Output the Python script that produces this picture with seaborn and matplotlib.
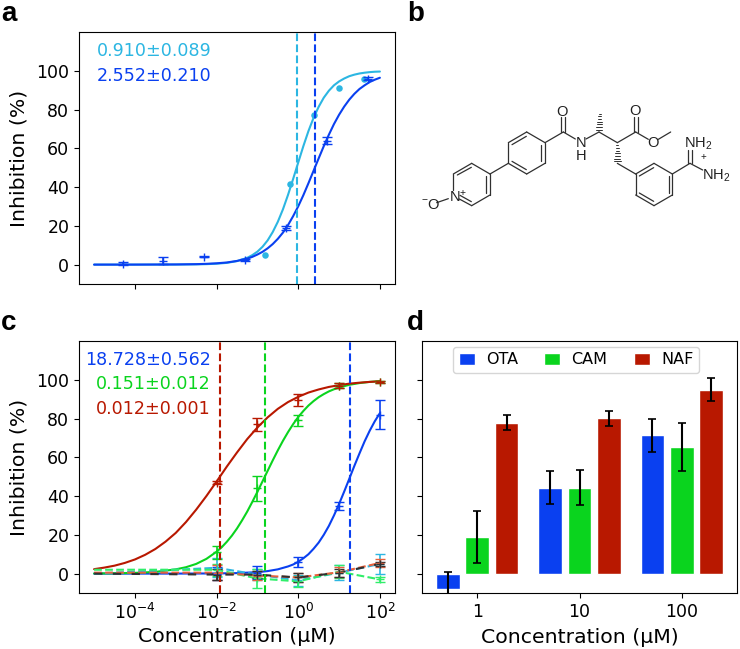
# -*- coding: utf-8 -*-
import numpy as np
import pandas as pd
import matplotlib
matplotlib.use('Agg')
import matplotlib.pyplot as plt
from matplotlib.ticker import FixedLocator, NullLocator, NullFormatter
import seaborn as sns

sns.set_style('ticks')
plt.rcParams['font.family'] = ['DejaVu Sans']
plt.rcParams['axes.linewidth'] = 0.8
plt.rcParams['mathtext.default'] = 'regular'
for key in ['text.color', 'axes.labelcolor', 'xtick.color', 'ytick.color', 'axes.edgecolor']:
    plt.rcParams[key] = 'black'

W, H = 740, 649
LIGHT = '#2cb6e2'
BLUE = '#0a40f0'
GREEN = '#0ad41e'
RED = '#b81800'
PALE_GREEN = '#30ee6a'
ORANGE = '#e8603c'

# %% panel a, fitted curves
logA = [-5, -4, -3, -2.5, -2.25, -2, -1.75, -1.5, -1.25, -1.125, -1, -0.875, -0.75, -0.625, -0.5, -0.375, -0.25,
        -0.125, 0, 0.125, 0.25, 0.375, 0.5, 0.625, 0.75, 0.875, 1, 1.125, 1.25, 1.375, 1.5, 1.625, 1.75, 1.875, 2]
curveA_dark = [0, 0.01, 0.09, 0.24, 0.41, 0.68, 1.1, 1.9, 3.1, 4.0, 5.2, 6.6, 8.4, 10.6, 13.3, 16.5, 20.4,
               25, 30.1, 35.8, 42, 48.4, 54.8, 61.1, 67, 72.5, 77.3, 81.5, 85.1, 88.1, 90.6, 92.5, 94.2, 95.4, 96.4]
curveA_light = [0, 0, 0.03, 0.12, 0.24, 0.46, 0.9, 1.8, 3.5, 4.9, 6.7, 9.2, 12.5, 16.8, 22.1, 28.5, 36,
                44.2, 52.7, 61.1, 68.9, 75.7, 81.4, 86.1, 89.7, 92.5, 94.5, 96, 97.2, 98, 98.6, 99, 99.3, 99.5, 99.6]

ptsA_x = [5e-5, 5e-4, 5e-3, 5e-2, 0.5, 5, 50]
ptsA_y = [0.5, 2, 4, 2.5, 19, 64, 96]
ptsA_e = [0.8, 1.8, 0.3, 0.4, 1, 2, 1]
dotsA_x = [0.15, 0.63, 2.5, 10, 40]
dotsA_y = [5, 41.5, 77, 91.3, 96]
ic50A = [0.910, 2.552]
ic50A_txt = ['0.910±0.089', '2.552±0.210']

# %% panel c
logOta = [-5, -4, -3, -2, -1.5, -1, -0.75, -0.5, -0.25, -0.125, 0, 0.125, 0.25, 0.375, 0.5, 0.625, 0.75, 0.875,
          1, 1.125, 1.25, 1.375, 1.5, 1.625, 1.75, 1.875, 2]
curveOta = [0, 0, 0.01, 0.09, 0.26, 0.75, 1.3, 2.2, 3.7, 4.7, 6.1, 7.9, 10, 12.8, 16, 20, 24.6, 30,
            35.9, 42.3, 48.9, 55.6, 62, 68.2, 73.7, 78.6, 82.8]
logCam = [-5, -4.5, -4, -3.5, -3, -2.75, -2.5, -2.25, -2, -1.875, -1.75, -1.625, -1.5, -1.375, -1.25, -1.125, -1,
          -0.875, -0.75, -0.625, -0.5, -0.375, -0.25, -0.125, 0, 0.125, 0.25, 0.375, 0.5, 0.625, 0.75, 0.875, 1,
          1.25, 1.5, 1.75, 2]
curveCam = [0.07, 0.15, 0.38, 0.9, 2.2, 3.3, 5, 7.6, 11.3, 13.6, 16.4, 19.6, 23.3, 27.5, 32, 37, 42.2,
            47.6, 53, 58.4, 63.6, 68.5, 73, 77.1, 80.8, 83.9, 86.7, 89, 91, 92.6, 94, 95.1, 96,
            97.4, 98.3, 98.9, 99.3]
logNaf = [-5, -4.75, -4.5, -4.25, -4, -3.75, -3.5, -3.25, -3, -2.75, -2.5, -2.25, -2, -1.75, -1.5, -1.25, -1,
          -0.75, -0.5, -0.25, 0, 0.25, 0.5, 0.75, 1, 1.25, 1.5, 1.75, 2]
curveNaf = [2.3, 3.1, 4.1, 5.5, 7.3, 9.7, 12.7, 16.5, 21, 26.6, 33, 40, 47.5, 55.2, 62.5, 69.4, 75.4,
            80.6, 85, 88.5, 91.2, 93.4, 95, 96.3, 97.2, 98, 98.5, 98.9, 99.2]

conc = [0.01, 0.1, 1, 10, 100]
ota_y = [0, 0.5, 6, 35, 82]
ota_e = [3.5, 3.5, 2.5, 2, 7.5]
cam_y = [11, 44, 79, 97, 99]
cam_e = [3.5, 6.5, 3, 1.5, 0.5]
naf_y = [47, 77, 89.5, 97, 99]
naf_e = [1, 3.5, 3, 1.5, 0.5]

concCtl = [1e-5, 0.01, 0.1, 1, 10, 100]
ctlGreen = [2, 2, -2.5, -4, 1, -3]
ctlGreen_e = [3, 5, 3, 3.5, 1.5]
ctlBlue = [0, 3, -0.5, -3.5, 0.5, 5]
ctlBlue_e = [5, 3, 3, 4, 5]
ctlOrange = [0.5, 0.5, -1, -2, 0.7, 5.5]
ctlOrange_e = [4, 2.5, 2.5, 2.5, 2]
ctlDark = [0, -0.5, -0.5, -2, 0.5, 5]
ctlDark_e = [3, 2, 2.5, 2, 1]

ic50C = [18.728, 0.151, 0.012]
ic50C_txt = ['18.728±0.562', '0.151±0.012', '0.012±0.001']

# %% panel d
barConc = ['1', '10', '100']
drugs = ['OTA', 'CAM', 'NAF']
otaBar = [-7.7, 44.4, 71.3]
otaErr = [8.7, 8.6, 8.6]
camBar = [19, 44.4, 65.4]
camErr = [13.3, 9, 12.5]
nafBar = [77.8, 80.2, 94.8]
nafErr = [3.8, 3.9, 6]

# %% panel b, skeleton in the coordinates of a 1020x780 canvas
bonds = [(110, 608, 145, 596), (160, 570, 160, 522), (160, 522, 215, 490), (215, 490, 270, 522),
         (270, 522, 270, 585), (270, 585, 215, 617), (215, 617, 178, 597),
         (172, 525, 214, 502), (259, 528, 259, 578), (180, 586, 214, 605),
         (270, 522, 325, 490),
         (325, 490, 325, 428), (325, 428, 380, 396), (380, 396, 435, 428), (435, 428, 435, 490),
         (435, 490, 380, 522), (380, 522, 325, 490),
         (336, 434, 379, 409), (424, 434, 424, 484), (336, 484, 379, 509),
         (435, 428, 490, 396), (483, 396, 483, 352), (494, 396, 494, 352),
         (490, 396, 526, 417), (558, 417, 597, 396), (597, 396, 652, 428),
         (652, 428, 707, 396), (702, 396, 702, 350), (713, 396, 713, 350),
         (707, 396, 745, 418), (775, 418, 812, 396),
         (652, 490, 707, 522),
         (707, 522, 762, 490), (762, 490, 817, 522), (817, 522, 817, 585), (817, 585, 762, 617),
         (762, 617, 707, 585), (707, 585, 707, 522),
         (718, 528, 761, 503), (806, 528, 806, 578), (718, 579, 761, 604),
         (817, 522, 870, 490), (864, 490, 864, 450), (875, 490, 875, 450), (870, 490, 908, 510)]
hashes = [(597, 396, 600, 335, True), (652, 428, 652, 490, False)]
atoms = [(487, 335, 'O'), (705, 333, 'O'), (760, 430, 'O'), (542, 448, 'N\nH')]


def ax_px(x0, y0, x1, y1):
    return fig.add_axes([x0 / W, 1 - y1 / H, (x1 - x0) / W, (y1 - y0) / H])


def curve(ax, logx, y, color, ls='-', lw=1.5):
    sns.lineplot(x=10.0 ** np.array(logx), y=y, color=color, ax=ax, errorbar=None,
                 estimator=None, linewidth=lw, linestyle=ls, legend=False)


def errs(ax, x, y, e, color):
    ax.errorbar(x, y, yerr=e, fmt='+', color=color, capsize=3.5, elinewidth=1.2,
                capthick=1.2, markersize=6, markeredgewidth=1.0)


def setup_log(ax):
    ax.set_xscale('log')
    ax.set_xlim(10 ** -5.37, 10 ** 2.37)
    ax.set_ylim(-10, 120)
    ax.xaxis.set_major_locator(FixedLocator([1e-4, 1e-2, 1, 100]))
    ax.xaxis.set_minor_locator(NullLocator())
    ax.set_yticks([0, 20, 40, 60, 80, 100])
    ax.tick_params(labelsize=12.5, length=3.5, width=0.8)
    ax.set_ylabel('Inhibition (%)', fontsize=14.7, labelpad=5.5)


fig = plt.figure(figsize=(W / 100, H / 100), dpi=100)

# %% a
axA = ax_px(79, 32, 395, 284)
setup_log(axA)
curve(axA, logA, curveA_light, LIGHT)
curve(axA, logA, curveA_dark, BLUE)
sns.scatterplot(x=dotsA_x, y=dotsA_y, color=LIGHT, s=22, linewidth=0, ax=axA, legend=False)
errs(axA, ptsA_x, ptsA_y, ptsA_e, BLUE)
axA.axvline(ic50A[0], color=LIGHT, ls='--', lw=1.5)
axA.axvline(ic50A[1], color=BLUE, ls='--', lw=1.5)
axA.xaxis.set_major_formatter(NullFormatter())
for txt, col, yy in zip(ic50A_txt, [LIGHT, BLUE], [56, 81]):
    fig.text(96.5 / W, 1 - yy / H, txt, color=col, fontsize=12.6, ha='left', va='baseline')

# %% c
axC = ax_px(79, 341, 395, 593)
setup_log(axC)
curve(axC, logOta, curveOta, BLUE)
curve(axC, logCam, curveCam, GREEN)
curve(axC, logNaf, curveNaf, RED)
errs(axC, conc, ctlBlue[1:], ctlBlue_e, LIGHT)
curve(axC, np.log10(concCtl), ctlBlue, LIGHT, '--')
errs(axC, conc, ctlGreen[1:], ctlGreen_e, PALE_GREEN)
curve(axC, np.log10(concCtl), ctlGreen, PALE_GREEN, '--')
errs(axC, conc, ota_y, ota_e, BLUE)
errs(axC, conc, cam_y, cam_e, GREEN)
errs(axC, conc, naf_y, naf_e, RED)
errs(axC, conc, ctlOrange[1:], ctlOrange_e, ORANGE)
curve(axC, np.log10(concCtl), ctlOrange, ORANGE, '--')
errs(axC, conc, ctlDark[1:], ctlDark_e, '#303030')
curve(axC, np.log10(concCtl), ctlDark, '#303030', (0, (4, 5)))
for val, col in zip(ic50C, [BLUE, GREEN, RED]):
    axC.axvline(val, color=col, ls='--', lw=1.5)
axC.set_xlabel('Concentration (µM)', fontsize=14.7, labelpad=3)
for txt, col, yy in zip(ic50C_txt, [BLUE, GREEN, RED], [365, 389, 414]):
    fig.text(211 / W, 1 - yy / H, txt, color=col, fontsize=12.6, ha='right', va='baseline')

# %% d
axD = ax_px(422, 341, 737, 593)
dfBar = pd.DataFrame({'conc': barConc * 3,
                      'drug': np.repeat(drugs, 3),
                      'val': otaBar + camBar + nafBar})
sns.barplot(data=dfBar, x='conc', y='val', hue='drug', palette=[BLUE, GREEN, RED], width=0.86,
            gap=0.185, saturation=1, errorbar=None, ax=axD)
for cont, err in zip(axD.containers, [otaErr, camErr, nafErr]):
    xs = [b.get_x() + b.get_width() / 2 for b in cont]
    ys = [b.get_height() for b in cont]
    axD.errorbar(xs, ys, yerr=err, fmt='none', ecolor='black', elinewidth=1.5, capsize=3.2, capthick=1.2)
axD.set_xlim(-0.54, 2.54)
axD.set_ylim(-10, 120)
axD.set_yticks([0, 20, 40, 60, 80, 100])
axD.set_yticklabels([])
axD.tick_params(labelsize=12.5, length=3.5, width=0.8)
axD.set_ylabel('')
axD.set_xlabel('Concentration (µM)', fontsize=14.7, labelpad=5)
axD.legend(ncol=3, loc='upper center', fontsize=11.5, columnspacing=1.65, handlelength=1.0, handleheight=0.8,
           handletextpad=0.7, bbox_to_anchor=(0.489, 1.0), borderaxespad=0.35, labelspacing=0.3, borderpad=0.35)

# %% b
axB = ax_px(400, 0, 740, 260)
axB.set_xlim(0, 1020)
axB.set_ylim(780, 0)
axB.axis('off')
for x0, y0, x1, y1 in bonds:
    axB.plot([x0, x1], [y0, y1], color='#303030', lw=0.9, solid_capstyle='round')
for x0, y0, x1, y1, narrow_end in hashes:
    for t in np.arange(0.12, 1.0, 0.13):
        xm, ym = x0 + (x1 - x0) * t, y0 + (y1 - y0) * t
        half = 2 + 9 * (1 - t) if narrow_end else 2 + 9 * t
        axB.plot([xm - half, xm + half], [ym, ym], color='#303030', lw=0.7)
molFont = {'family': 'Liberation Sans', 'fontsize': 10.5, 'color': '#202020', 'ha': 'center', 'va': 'center'}
for x, y, s in atoms:
    axB.text(x, y, s, linespacing=0.85, **molFont)
axB.text(895, 432, 'NH$_2$', **molFont)
axB.text(948, 528, 'NH$_2$', **molFont)
axB.text(909, 472, '+', **{**molFont, 'fontsize': 7})
axB.text(147, 590, 'N$^{+}$', **{**molFont, 'ha': 'left'})
axB.text(120, 616, '$^{-}$O', **{**molFont, 'ha': 'right'})

# %% panel letters
for s, x, y in [('a', 1, 21), ('b', 407, 21), ('c', 1, 330), ('d', 407, 330)]:
    fig.text(x / W, 1 - y / H, s, fontfamily='Liberation Sans', fontweight='bold', fontsize=20,
             ha='left', va='baseline', color='black')

fig.savefig('out.png', dpi=100)
